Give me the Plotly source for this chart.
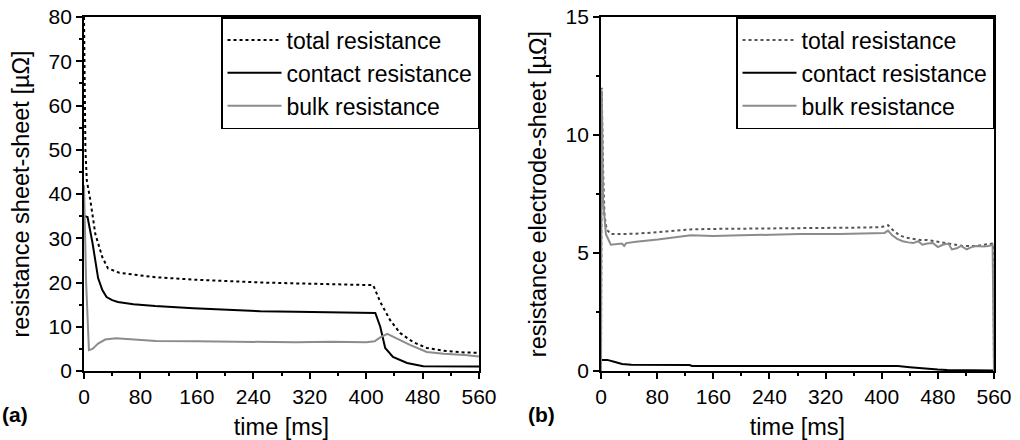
import plotly.graph_objects as go

# ---------------- panel (a): sheet-sheet ----------------
a_total_t = [0, 2, 4, 9, 16, 26, 34, 50, 80, 101, 160, 200, 250, 300, 350, 400, 410, 420, 434, 448, 467, 486, 514, 540, 557, 560]
a_total_v = [80, 50, 43, 38.6, 31, 25.7, 23.2, 22.2, 21.6, 21.2, 20.6, 20.3, 20.0, 19.8, 19.6, 19.5, 19.4, 15.6, 11.5, 8.6, 6.5, 5.2, 4.5, 4.2, 4.1, 3.9]

a_contact_t = [1, 5, 12, 20, 26, 32, 40, 48, 70, 101, 155, 200, 250, 300, 350, 400, 413, 420, 427, 438, 458, 481, 520, 560]
a_contact_v = [35, 34.8, 29, 21, 18.3, 16.7, 16.0, 15.6, 15.1, 14.7, 14.2, 13.9, 13.5, 13.4, 13.3, 13.2, 13.1, 10, 5.2, 3.2, 1.8, 1.1, 1.0, 1.0]

a_bulk_t = [0, 3, 7, 12, 20, 30, 45, 60, 102, 160, 200, 250, 300, 350, 400, 412, 420, 430, 445, 462, 486, 510, 540, 557, 560]
a_bulk_v = [42, 20, 4.7, 5.0, 6.2, 7.1, 7.4, 7.2, 6.8, 6.7, 6.6, 6.6, 6.5, 6.6, 6.5, 6.7, 7.6, 8.4, 7.2, 5.9, 4.3, 3.9, 3.6, 3.4, 3.3]

# ---------------- panel (b): electrode-sheet ----------------
b_total_t = [0, 1, 3, 5, 8, 14, 25, 33, 50, 81, 128, 160, 200, 250, 300, 340, 380, 400, 409, 415, 425, 435, 445, 455, 465, 475, 485, 495, 505, 515, 525, 535, 545, 555, 559, 560]
b_total_v = [0, 12.0, 8.5, 6.6, 6.0, 5.8, 5.8, 5.8, 5.82, 5.88, 6.0, 6.02, 6.03, 6.05, 6.05, 6.05, 6.08, 6.1, 6.18, 6.0, 5.75, 5.65, 5.6, 5.55, 5.55, 5.5, 5.45, 5.4, 5.35, 5.3, 5.3, 5.3, 5.35, 5.4, 5.4, 0]

b_bulk_t = [0, 1, 3, 7, 14, 25, 30, 33, 36, 50, 81, 128, 160, 200, 250, 283, 340, 397, 404, 409, 415, 422, 430, 438, 445, 452, 458, 465, 473, 480, 487, 495, 500, 507, 513, 521, 528, 535, 545, 552, 558, 560]
b_bulk_v = [0, 11.9, 7.2, 5.8, 5.35, 5.38, 5.4, 5.3, 5.42, 5.48, 5.57, 5.75, 5.72, 5.75, 5.78, 5.8, 5.8, 5.82, 5.85, 5.95, 5.75, 5.6, 5.5, 5.45, 5.42, 5.5, 5.35, 5.4, 5.42, 5.25, 5.35, 5.4, 5.15, 5.2, 5.3, 5.15, 5.25, 5.3, 5.28, 5.3, 5.35, 0]

b_contact_t = [0, 9, 20, 30, 43, 80, 126, 130, 200, 320, 423, 440, 460, 480, 493, 520, 560]
b_contact_v = [0.47, 0.47, 0.38, 0.3, 0.26, 0.25, 0.25, 0.21, 0.21, 0.21, 0.21, 0.16, 0.1, 0.06, 0.04, 0.02, 0.02]

x_ticks = [0, 80, 160, 240, 320, 400, 480, 560]
a_y_ticks = [0, 10, 20, 30, 40, 50, 60, 70, 80]
b_y_ticks = [0, 5, 10, 15]

series_names = ["total resistance", "contact resistance", "bulk resistance"]

FONT = "Liberation Sans, Arial, sans-serif"
GREY = "#8c8c8c"
TICK_SIZE = 21
TITLE_SIZE = 23.5
LEG_SIZE = 23

fig = go.Figure()

# panel a
fig.add_trace(go.Scatter(x=a_total_t, y=a_total_v, name=series_names[0], mode="lines",
                         line=dict(color="black", width=2, dash="dot"), xaxis="x", yaxis="y", legend="legend"))
fig.add_trace(go.Scatter(x=a_contact_t, y=a_contact_v, name=series_names[1], mode="lines",
                         line=dict(color="black", width=2), xaxis="x", yaxis="y", legend="legend"))
fig.add_trace(go.Scatter(x=a_bulk_t, y=a_bulk_v, name=series_names[2], mode="lines",
                         line=dict(color=GREY, width=2), xaxis="x", yaxis="y", legend="legend"))

# panel b
fig.add_trace(go.Scatter(x=b_total_t, y=b_total_v, name=series_names[0], mode="lines",
                         line=dict(color="#555555", width=2, dash="dot"), xaxis="x2", yaxis="y2", legend="legend2"))
fig.add_trace(go.Scatter(x=b_contact_t, y=b_contact_v, name=series_names[1], mode="lines",
                         line=dict(color="black", width=2), xaxis="x2", yaxis="y2", legend="legend2"))
fig.add_trace(go.Scatter(x=b_bulk_t, y=b_bulk_v, name=series_names[2], mode="lines",
                         line=dict(color=GREY, width=2), xaxis="x2", yaxis="y2", legend="legend2"))

W, H = 1020, 440
ytop, ybot = 17, 371
ydom = [(H - ybot) / H, (H - ytop) / H]

common_x = dict(range=[0, 560], tickvals=x_ticks, ticks="outside", ticklen=6, tickwidth=1.5,
                tickcolor="black", showline=True, linecolor="black", linewidth=1.8, mirror=True,
                showgrid=False, zeroline=False, automargin=False,
                tickfont=dict(size=TICK_SIZE, color="black"),
                minor=dict(dtick=40, ticks="outside", ticklen=3, tickwidth=1.5, tickcolor="black", showgrid=False),
                title=dict(text="time [ms]", font=dict(size=TITLE_SIZE, color="black"), standoff=14))
common_y = dict(ticks="outside", ticklen=6, tickwidth=1.5, tickcolor="black", showline=True,
                linecolor="black", linewidth=1.8, mirror=True, showgrid=False, zeroline=False,
                automargin=False, tickfont=dict(size=TICK_SIZE, color="black"))

leg_common = dict(y=ydom[1], yanchor="top", bgcolor="white", bordercolor="black", borderwidth=1.5,
                  font=dict(size=LEG_SIZE, color="black"), tracegroupgap=0, itemwidth=54)

fig.update_layout(
    width=W, height=H,
    margin=dict(l=0, r=0, t=0, b=0, autoexpand=False),
    paper_bgcolor="white", plot_bgcolor="white",
    font=dict(family=FONT, color="black"),
    xaxis=dict(domain=[84 / W, 479 / W], anchor="y", **common_x),
    yaxis=dict(domain=ydom, anchor="x", range=[0, 80], tickvals=a_y_ticks,
               minor=dict(dtick=5, ticks="outside", ticklen=3, tickwidth=1.5, tickcolor="black", showgrid=False),
               title=dict(text="resistance sheet-sheet [µΩ]", font=dict(size=TITLE_SIZE, color="black"), standoff=12),
               **common_y),
    xaxis2=dict(domain=[601 / W, 994 / W], anchor="y2", **common_x),
    yaxis2=dict(domain=ydom, anchor="x2", range=[0, 15], tickvals=b_y_ticks,
                minor=dict(dtick=2.5, ticks="outside", ticklen=3, tickwidth=1.5, tickcolor="black", showgrid=False),
                title=dict(text="resistance electrode-sheet [µΩ]", font=dict(size=TITLE_SIZE, color="black"), standoff=12),
                **common_y),
    legend=dict(x=479 / W, xanchor="right", **leg_common),
    legend2=dict(x=994 / W, xanchor="right", **leg_common),
    showlegend=True,
    annotations=[
        dict(text="<b>(a)</b>", x=0, y=(H - 414) / H, xref="paper", yref="paper",
             xanchor="left", yanchor="middle", showarrow=False, font=dict(size=21, color="black")),
        dict(text="<b>(b)</b>", x=526 / W, y=(H - 414) / H, xref="paper", yref="paper",
             xanchor="left", yanchor="middle", showarrow=False, font=dict(size=21, color="black")),
    ],
)

fig.write_html("out.html")
